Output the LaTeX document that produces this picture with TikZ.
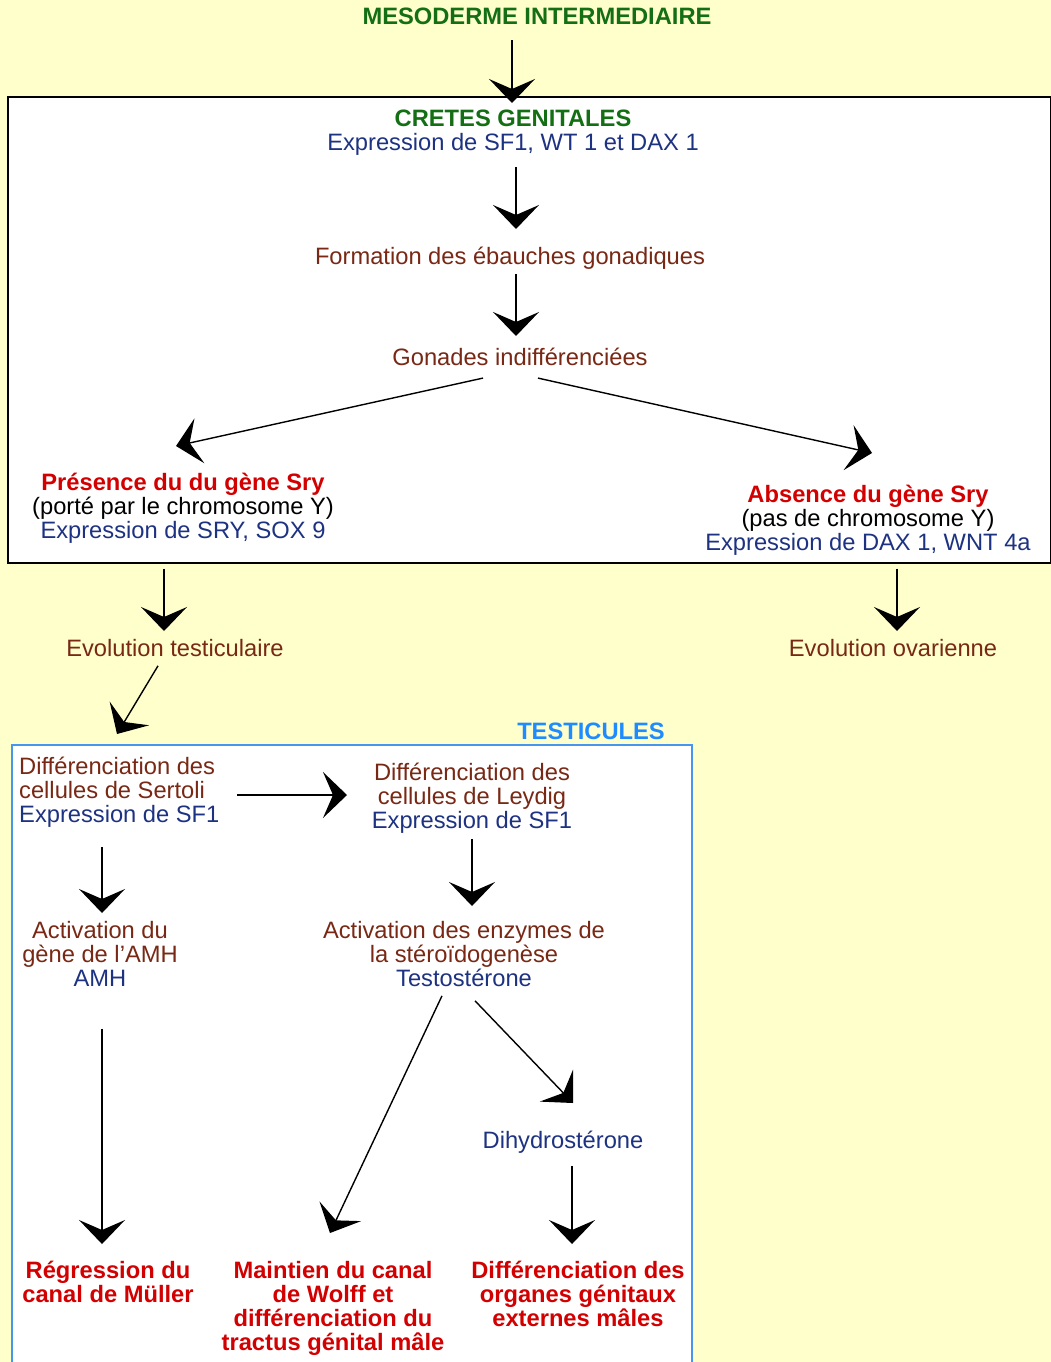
\documentclass[tikz,border=0pt]{standalone}
\usepackage{fontspec}
\setmainfont{Liberation Sans}
\usetikzlibrary{arrows.meta,calc}
\definecolor{bgyellow}{RGB}{255,255,204}
\definecolor{dgreen}{RGB}{20,110,20}
\definecolor{navy}{RGB}{30,50,130}
\definecolor{brownred}{RGB}{120,40,20}
\definecolor{bred}{RGB}{210,0,0}
\definecolor{sky}{RGB}{30,140,255}
\definecolor{boxblue}{RGB}{70,150,240}
\begin{document}
\begin{tikzpicture}[x=1pt,y=-1pt,
  txt/.style={inner sep=0pt, align=center, anchor=north, font=\fontsize{23.7}{24}\selectfont},
  arr/.style={line width=1.4pt, -{Stealth[length=24pt,width=46pt,inset=10pt]}}]
\useasboundingbox (0,0) rectangle (1051,1362);
\fill[bgyellow] (0,0) rectangle (1051,1362);
% boxes
\filldraw[fill=white, draw=black, line width=1.5pt] (8,97) rectangle (1050.5,563);
\fill[white] (12,745) rectangle (692,1362);
\draw[boxblue, line width=1.5pt] (12,1362) -- (12,745) -- (692,745) -- (692,1362);
% nodes
\node[txt] (mes) at (537,8) {\textcolor{dgreen}{\bfseries MESODERME INTERMEDIAIRE}};
\node[txt] (cg) at (513,110) {\textcolor{dgreen}{\bfseries CRETES GENITALES}\\\textcolor{navy}{Expression de SF1, WT 1 et DAX 1}};
\node[txt] (form) at (510,247) {\textcolor{brownred}{Formation des ébauches gonadiques}};
\node[txt] (gon) at (520,348) {\textcolor{brownred}{Gonades indifférenciées}};
\node[txt] (pres) at (183,473) {\textcolor{bred}{\bfseries Présence du du gène Sry}\\(porté par le chromosome Y)\\\textcolor{navy}{Expression de SRY, SOX 9}};
\node[txt] (abs) at (868,485) {\textcolor{bred}{\bfseries Absence du gène Sry}\\(pas de chromosome Y)\\\textcolor{navy}{Expression de DAX 1, WNT 4a}};
\node[txt] (evt) at (175,639) {\textcolor{brownred}{Evolution testiculaire}};
\node[txt] (evo) at (893,639) {\textcolor{brownred}{Evolution ovarienne}};
\node[txt] (test) at (591,723) {\textcolor{sky}{\bfseries TESTICULES}};
\node[txt, align=left, anchor=north west] (sert) at (19,757) {\textcolor{brownred}{Différenciation des}\\\textcolor{brownred}{cellules de Sertoli}\\\textcolor{navy}{Expression de SF1}};
\node[txt] (leyd) at (472,763) {\textcolor{brownred}{Différenciation des}\\\textcolor{brownred}{cellules de Leydig}\\\textcolor{navy}{Expression de SF1}};
\node[txt] (actamh) at (100,921) {\textcolor{brownred}{Activation du}\\\textcolor{brownred}{gène de l’AMH}\\\textcolor{navy}{AMH}};
\node[txt] (actenz) at (464,921) {\textcolor{brownred}{Activation des enzymes de}\\\textcolor{brownred}{la stéroïdogenèse}\\\textcolor{navy}{Testostérone}};
\node[txt] (dihy) at (563,1131) {\textcolor{navy}{Dihydrostérone}};
\node[txt, font=\fontsize{23.7}{24}\selectfont\bfseries, text=bred] (reg) at (108,1261) {Régression du\\canal de Müller};
\node[txt, font=\fontsize{23.7}{24}\selectfont\bfseries, text=bred] (main) at (333,1261) {Maintien du canal\\de Wolff et\\différenciation du\\tractus génital mâle};
\node[txt, font=\fontsize{23.7}{24}\selectfont\bfseries, text=bred] (dorg) at (578,1261) {Différenciation des\\organes génitaux\\externes mâles};
% arrows
\draw[arr] ($(mes.south)+(-25,15)$) -- ($(cg.north)+(-1,-7)$);
\draw[arr] ($(cg.south)+(3,11)$) -- ($(form.north)+(6,-18)$);
\draw[arr] ($(form.south)+(6,4)$) -- ($(gon.north)+(-4,-12)$);
\draw[arr] ($(gon.south)+(-37,12)$) -- ($(pres.north)+(-7,-27)$);
\draw[arr] ($(gon.south)+(18,12)$) -- ($(abs.north)+(4,-32)$);
\draw[arr] ($(pres.south)+(-19,25)$) -- ($(evt.north)+(-11,-8)$);
\draw[arr] ($(abs.south)+(29,13)$) -- ($(evo.north)+(4,-8)$);
\draw[arr] ($(evt.south)+(-17,9)$) -- ($(sert.north west)+(98,-23)$);
\draw[arr] ($(sert.north west)+(218,38)$) -- ($(leyd.north)+(-125,32)$);
\draw[arr] ($(sert.north west)+(83,90)$) -- ($(actamh.north)+(2,-8)$);
\draw[arr] ($(leyd.south)+(0,5)$) -- ($(actenz.north)+(8,-15)$);
\draw[arr] ($(actamh.south)+(2,42)$) -- ($(reg.north)+(-6,-17)$);
\draw[arr] ($(actenz.south)+(-22,9)$) -- ($(main.north)+(-3,-28)$);
\draw[arr] ($(actenz.south)+(11,14)$) -- ($(dihy.north)+(10,-28)$);
\draw[arr] ($(dihy.south)+(9,12)$) -- ($(dorg.north)+(-6,-17)$);
\end{tikzpicture}
\end{document}
